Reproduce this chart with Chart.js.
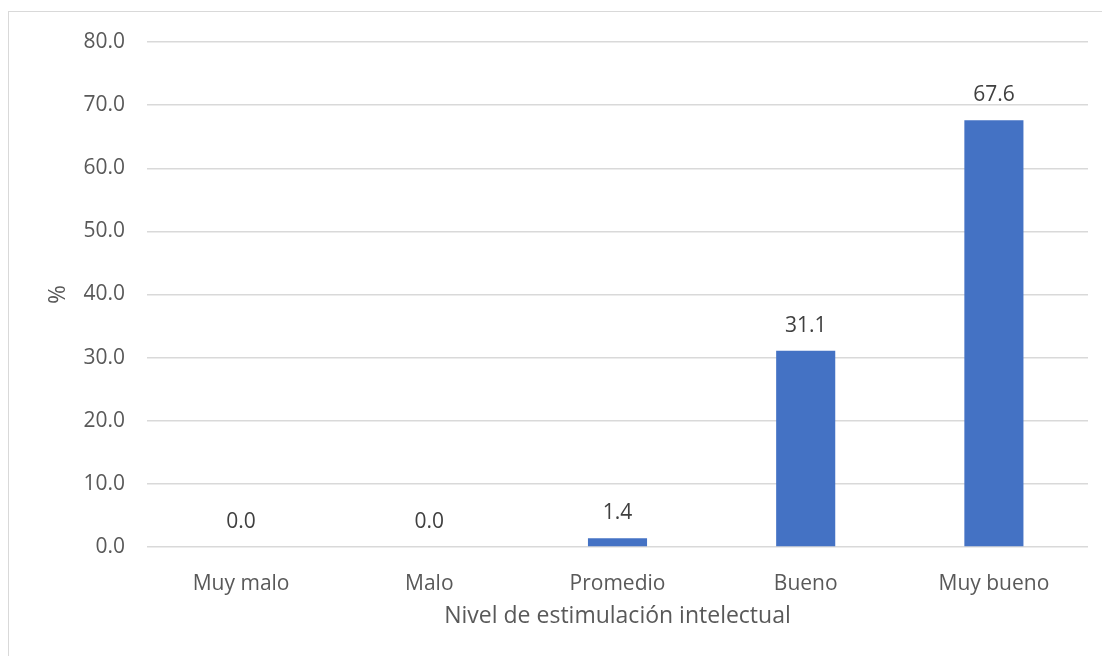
<!DOCTYPE html>
<html>
<head>
<meta charset="utf-8">
<script src="https://cdn.jsdelivr.net/npm/chart.js@4/dist/chart.umd.min.js"></script>
<style>
  html, body { margin: 0; padding: 0; background: #ffffff; }
  #wrap { position: relative; width: 1102px; height: 656px; overflow: hidden; }
  #frame {
    position: absolute; left: 8px; top: 11px; width: 1200px; height: 800px;
    border-left: 1px solid #d9d9d9; border-top: 1px solid #d9d9d9;
    box-sizing: border-box; pointer-events: none;
  }
  canvas { position: absolute; left: 0; top: 0; }
</style>
</head>
<body>
<div id="wrap">
  <div id="frame"></div>
  <canvas id="chart" width="1102" height="656"></canvas>
</div>
<script>
// Categories and percentages per level
const categories = ['Muy malo', 'Malo', 'Promedio', 'Bueno', 'Muy bueno'];
const percentages = [0.0, 0.0, 1.4, 31.1, 67.6];
const yTicks = [0, 10, 20, 30, 40, 50, 60, 70, 80];
const xTitle = 'Nivel de estimulación intelectual';
const yTitle = '%';

const FONT = "'Open Sans', 'Noto Sans', sans-serif";

// Value labels above each bar
const valueLabels = {
  id: 'valueLabels',
  afterDatasetsDraw(chart) {
    const ctx = chart.ctx;
    const meta = chart.getDatasetMeta(0);
    ctx.save();
    ctx.font = '21px ' + FONT;
    ctx.fillStyle = '#404040';
    ctx.textAlign = 'center';
    ctx.textBaseline = 'middle';
    meta.data.forEach((bar, i) => {
      ctx.fillText(percentages[i].toFixed(1), bar.x, bar.y - 25);
    });
    ctx.restore();
  }
};

new Chart(document.getElementById('chart'), {
  type: 'bar',
  data: {
    labels: categories,
    datasets: [{
      data: percentages,
      backgroundColor: '#4472c4',
      borderWidth: 0,
      categoryPercentage: 1.0,
      barPercentage: 0.314
    }]
  },
  options: {
    responsive: false,
    animation: false,
    maintainAspectRatio: false,
    layout: { padding: { top: 42, right: 14, left: 0, bottom: 0 } },
    plugins: {
      legend: { display: false },
      tooltip: { enabled: false }
    },
    scales: {
      x: {
        grid: { display: false, drawTicks: false },
        border: { display: false },
        ticks: {
          color: '#595959',
          font: { family: FONT, size: 21 },
          padding: 24,
          maxRotation: 0
        },
        title: {
          display: true,
          text: xTitle,
          color: '#595959',
          font: { family: FONT, size: 23 },
          padding: { top: 0, bottom: 26 }
        },
        afterFit(scale) { scale.height = 109; }
      },
      y: {
        min: 0,
        max: 80,
        afterBuildTicks(scale) { scale.ticks = yTicks.map(v => ({ value: v })); },
        grid: { color: '#d9d9d9', lineWidth: 1.4, drawTicks: false },
        border: { display: false },
        ticks: {
          color: '#595959',
          font: { family: FONT, size: 21 },
          padding: 22,
          callback: v => Number(v).toFixed(1)
        },
        title: {
          display: true,
          text: yTitle,
          color: '#595959',
          font: { family: FONT, size: 23 },
          padding: { top: 45, bottom: 0 }
        },
        afterFit(scale) { scale.width = 147; }
      }
    }
  },
  plugins: [valueLabels]
});
</script>
</body>
</html>
